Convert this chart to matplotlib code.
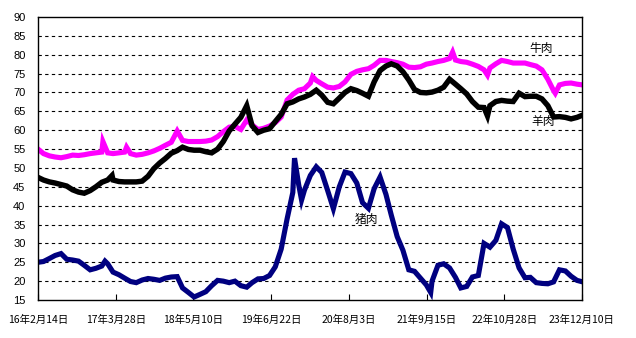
import matplotlib.pyplot as plt
import pandas as pd

plt.rcParams['font.family'] = ['Liberation Sans', 'Noto Sans CJK SC', 'DejaVu Sans']

# monthly readings (14th of each month) from 2016-02 to 2023-12
months = pd.date_range('2016-02-14', periods=95, freq=pd.DateOffset(months=1))

beef = [55.0, 53.8, 53.2, 52.9, 52.7, 53.0, 53.4, 53.3, 53.5, 53.8,
        54.0, 54.2, 54.0, 53.8, 54.0, 54.2, 53.8, 53.4, 53.6, 54.0,
        54.5, 55.2, 56.0, 56.8, 59.8, 57.3, 57.0, 57.0, 57.0, 57.1,
        57.4, 58.3, 59.6, 60.8, 61.0, 60.2, 62.7, 61.4, 60.2, 60.5,
        61.1, 62.0, 63.5, 68.0, 69.5, 70.6, 71.0, 72.5, 73.2, 72.3,
        71.4, 71.2, 71.6, 72.8, 74.8, 75.6, 76.0, 76.3, 77.2, 78.5,
        78.5, 78.2, 77.9, 77.5, 76.7, 76.6, 76.8, 77.5, 77.8, 78.2,
        78.5, 79.0, 78.6, 78.2, 78.0, 77.5, 76.9, 76.0, 76.5, 77.6,
        78.5, 78.2, 77.8, 77.8, 77.8, 77.4, 77.0, 76.0, 73.5, 70.5,
        72.0, 72.4, 72.5, 72.2, 72.0]

mutton = [47.5, 46.8, 46.3, 46.0, 45.6, 45.2, 44.2, 43.6, 43.3, 44.0,
          45.0, 46.2, 46.8, 46.8, 46.4, 46.3, 46.3, 46.3, 46.5, 47.8,
          49.8, 51.3, 52.5, 53.9, 54.6, 55.5, 54.9, 54.7, 54.7, 54.3,
          54.0, 55.0, 57.0, 59.8, 61.6, 63.4, 66.5, 61.2, 59.4, 60.0,
          60.4, 62.3, 64.2, 67.0, 67.5, 68.3, 68.8, 69.5, 70.6, 69.3,
          67.4, 67.0, 68.5, 70.0, 71.0, 70.5, 69.8, 69.0, 72.8, 75.8,
          77.0, 77.6, 77.0, 75.5, 73.3, 70.8, 70.0, 69.9, 70.1, 70.6,
          71.4, 73.5, 72.2, 71.0, 69.6, 67.6, 66.1, 66.0, 66.5, 67.6,
          67.9, 67.7, 67.6, 69.8, 68.9, 69.0, 69.0, 68.3, 66.5, 63.5,
          63.6, 63.4, 63.0, 63.4, 64.0]

pork = [25.0, 25.2, 26.0, 26.8, 27.3, 25.8, 25.6, 25.3, 24.2, 23.0,
        23.4, 24.0, 24.6, 22.4, 21.7, 20.8, 19.9, 19.6, 20.3, 20.7,
        20.5, 20.2, 20.8, 21.1, 21.2, 18.2, 17.0, 15.8, 16.5, 17.2,
        18.8, 20.2, 20.0, 19.6, 20.0, 18.8, 18.4, 19.6, 20.6, 20.7,
        21.5, 23.8, 28.5, 36.5, 43.5, 45.5, 44.1, 48.0, 50.3, 48.8,
        44.0, 39.2, 45.0, 48.9, 48.5, 46.0, 40.8, 39.3, 44.5, 47.6,
        43.0, 37.5, 31.8, 28.2, 23.0, 22.6, 20.8, 19.0, 20.0, 24.2,
        24.6, 23.5, 21.0, 18.2, 18.6, 21.1, 21.5, 30.0, 29.0, 30.8,
        35.2, 34.2, 28.5, 23.5, 20.9, 21.0, 19.6, 19.4, 19.3, 19.8,
        23.0, 22.7, 21.3, 20.2, 19.8]

# short spikes between the monthly readings
beef_spike_dates = ['2017-01-20', '2017-05-24', '2020-01-26', '2022-01-30', '2022-08-01', '2023-07-23']
beef_spikes = [57.0, 55.5, 74.2, 80.7, 74.6, 69.8]
mutton_spike_dates = ['2017-03-09', '2022-08-01']
mutton_spikes = [48.0, 63.8]
pork_spike_dates = ['2017-01-31', '2019-10-23', '2019-11-29', '2021-10-07']
pork_spikes = [25.3, 52.6, 41.5, 17.0]

tick_dates = ['2016-02-14', '2017-03-28', '2018-05-10', '2019-06-22',
              '2020-08-03', '2021-09-15', '2022-10-28', '2023-12-10']
tick_labels = ['16年2月14日', '17年3月28日', '18年5月10日', '19年6月22日',
               '20年8月3日', '21年9月15日', '22年10月28日', '23年12月10日']


def merge(vals, spike_dates, spikes):
    s = pd.Series(vals, index=months)
    e = pd.Series(spikes, index=pd.to_datetime(spike_dates))
    return pd.concat([s, e]).sort_index()


fig = plt.figure(figsize=(6.36, 3.38), dpi=100)
ax = fig.add_axes([0.0597, 0.1124, 0.8553, 0.8373])

b = merge(beef, beef_spike_dates, beef_spikes)
m = merge(mutton, mutton_spike_dates, mutton_spikes)
p = merge(pork, pork_spike_dates, pork_spikes)

ax.plot(b.index, b.values, color='#FF00FF', lw=3.7, solid_joinstyle='miter')
ax.plot(m.index, m.values, color='#000000', lw=3.9, solid_joinstyle='miter')
ax.plot(p.index, p.values, color='#000080', lw=3.7, solid_joinstyle='miter')

ax.set_ylim(15, 90)
ax.set_yticks(range(15, 91, 5))
ax.set_xlim(pd.Timestamp(tick_dates[0]), pd.Timestamp(tick_dates[-1]))
ax.set_xticks(pd.to_datetime(tick_dates))
ax.set_xticklabels(tick_labels, fontsize=7.5, family=['Noto Sans CJK SC', 'DejaVu Sans'])

for yv in range(20, 90, 5):
    ax.axhline(yv, color='black', lw=0.8, ls=(0, (3, 3)), zorder=0)

ax.tick_params(axis='y', length=0, pad=9, labelsize=8)
ax.tick_params(axis='x', direction='in', length=4, pad=11)
for s in ax.spines.values():
    s.set_linewidth(1.0)

lab = dict(fontsize=8.5, family=['Noto Sans CJK SC', 'DejaVu Sans'], ha='center', va='center')
ax.text(pd.Timestamp('2023-05-10'), 81.7, '牛肉', **lab)
ax.text(pd.Timestamp('2023-05-22'), 62.2, '羊肉', **lab)
ax.text(pd.Timestamp('2020-11-05'), 36.4, '猪肉', **lab)

fig.savefig('out.png', dpi=100)
